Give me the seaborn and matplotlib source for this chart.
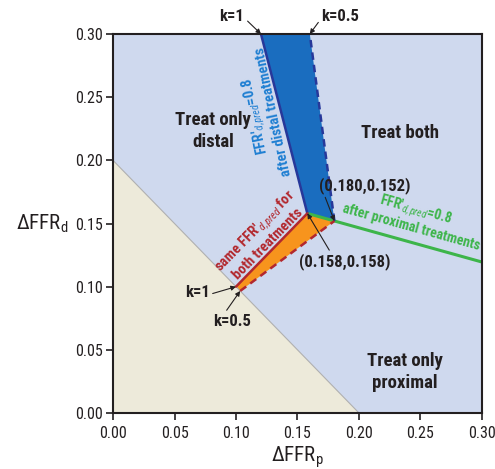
import matplotlib
matplotlib.use("Agg")
import matplotlib.pyplot as plt
import seaborn as sns
import pandas as pd

# regioes (vertices em coordenadas de dados)
triangulo_x = [0.0, 0.20, 0.0]
triangulo_y = [0.0, 0.0, 0.20]
azul_x = [0.158, 0.1203, 0.160, 0.180]
azul_y = [0.158, 0.300, 0.300, 0.152]
laranja_x = [0.158, 0.180, 0.1034, 0.100]
laranja_y = [0.158, 0.152, 0.0966, 0.100]

# linhas de fronteira
k1_dist_x = [0.158, 0.1203]
k1_dist_y = [0.158, 0.300]
k05_dist_x = [0.180, 0.160]
k05_dist_y = [0.152, 0.300]
k1_igual_x = [0.100, 0.158]
k1_igual_y = [0.100, 0.158]
k05_igual_x = [0.1034, 0.180]
k05_igual_y = [0.0966, 0.152]
verde_x = [0.158, 0.180, 0.300]
verde_y = [0.158, 0.152, 0.1195]

ticks = [0.00, 0.05, 0.10, 0.15, 0.20, 0.25, 0.30]

cor_fundo = '#cfd9ee'
cor_bege = '#edeada'
cor_azul = '#1a6dbf'
cor_marinho = '#27389a'
cor_laranja = '#f7941d'
cor_vermelho = '#b2282e'
cor_verde = '#3db54a'
cor_texto_azul = '#1f7fd2'
cor_texto = '#231f20'

fonte = ['Roboto Condensed', 'Barlow Condensed', 'DejaVu Sans']

sns.set_theme(style='ticks')
plt.rcParams['font.family'] = fonte
plt.rcParams['mathtext.fontset'] = 'custom'
plt.rcParams['mathtext.rm'] = 'Roboto Condensed'
plt.rcParams['mathtext.it'] = 'Roboto Condensed:italic'
plt.rcParams['mathtext.bf'] = 'Roboto Condensed:bold'

fig = plt.figure(figsize=(4.95, 4.69), dpi=100)
ax = fig.add_axes([0.2283, 0.1194, 0.7454, 0.8081])
ax.set_facecolor(cor_fundo)

ax.fill(triangulo_x, triangulo_y, color=cor_bege, lw=0)
ax.plot([0.0, 0.20], [0.20, 0.0], color='#b0b0b0', lw=0.8)
ax.fill(azul_x, azul_y, color=cor_azul, lw=0)
ax.fill(laranja_x, laranja_y, color=cor_laranja, lw=0)


def linha(xs, ys, cor, estilo='-', lw=1.8):
    df = pd.DataFrame({'x': xs, 'y': ys})
    sns.lineplot(data=df, x='x', y='y', sort=False, color=cor, lw=lw,
                 linestyle=estilo, ax=ax)


linha(verde_x, verde_y, cor_verde, lw=2.2)
linha(k1_dist_x, k1_dist_y, cor_marinho)
linha(k05_dist_x, k05_dist_y, cor_marinho, estilo=(0, (3, 2)))
linha(k1_igual_x, k1_igual_y, cor_vermelho)
linha(k05_igual_x, k05_igual_y, cor_vermelho, estilo=(0, (3, 2)))

ax.set_xlim(0, 0.30)
ax.set_ylim(0, 0.30)
ax.set_xticks(ticks)
ax.set_yticks(ticks)
ax.set_xticklabels([f'{t:.2f}' for t in ticks])
ax.set_yticklabels([f'{t:.2f}' for t in ticks])
ax.tick_params(labelsize=11.5, length=5, width=1.2, colors=cor_texto)
ax.tick_params(axis='x', pad=4)
ax.tick_params(axis='y', pad=2)
for s in ax.spines.values():
    s.set_linewidth(1.5)
    s.set_color(cor_texto)

ax.set_xlabel(r'$\Delta$FFR$_{\rm p}$', fontsize=15, color=cor_texto, labelpad=3)
ax.set_ylabel(r'$\Delta$FFR$_{\rm d}$', fontsize=15, color=cor_texto, rotation=0,
              va='center', ha='center')
ax.yaxis.set_label_coords(-0.193, 0.5)

# textos das regioes
kw = dict(ha='center', va='center', fontsize=13.5, fontweight='bold', color=cor_texto,
          linespacing=1.3)
ax.text(0.0813, 0.2233, 'Treat only\ndistal', **kw)
ax.text(0.2333, 0.2217, 'Treat both', **kw)
ax.text(0.2374, 0.0325, 'Treat only\nproximal', **kw)

ax.text(0.1225, 0.237, "FFR'$_{\\mathit{d,pred}}$=0.8\nafter distal treatments",
        rotation=102, rotation_mode='anchor', ha='center', va='center',
        fontsize=10.5, fontweight='bold', color=cor_texto_azul, linespacing=1.0)
ax.text(0.1205, 0.1395, "same FFR'$_{\\mathit{d,pred}}$ for\nboth treatments",
        rotation=45.5, rotation_mode='anchor', ha='center', va='center',
        fontsize=10.5, fontweight='bold', color=cor_vermelho, linespacing=1.0)
ax.text(0.2445, 0.1545, "FFR'$_{\\mathit{d,pred}}$=0.8\nafter proximal treatments",
        rotation=-15.5, rotation_mode='anchor', ha='center', va='center',
        fontsize=10, fontweight='bold', color=cor_verde, linespacing=1.0)

# anotacoes com setas
seta = dict(arrowstyle='-|>', color=cor_texto, lw=0.8, mutation_scale=7,
            shrinkA=0, shrinkB=0)
akw = dict(ha='center', va='center', fontsize=12, fontweight='bold', color=cor_texto,
           annotation_clip=False)
ax.annotate('(0.180,0.152)', xy=(0.180, 0.152), xytext=(0.205, 0.180),
            arrowprops=dict(seta, relpos=(0.05, 0.0)), **akw)
ax.annotate('(0.158,0.158)', xy=(0.158, 0.158), xytext=(0.1886, 0.1196),
            arrowprops=dict(seta, relpos=(0.35, 1.0)), **akw)
ax.annotate('k=1', xy=(0.1203, 0.300), xytext=(0.0967, 0.3139),
            arrowprops=dict(seta, relpos=(1.0, 0.4)), **akw)
ax.annotate('k=0.5', xy=(0.160, 0.300), xytext=(0.185, 0.3139),
            arrowprops=dict(seta, relpos=(0.0, 0.4)), **akw)
ax.annotate('k=1', xy=(0.100, 0.100), xytext=(0.0683, 0.095),
            arrowprops=dict(seta, relpos=(1.0, 0.4)), **akw)
ax.annotate('k=0.5', xy=(0.1034, 0.0966), xytext=(0.0967, 0.0728),
            arrowprops=dict(seta, relpos=(0.3, 1.0)), **akw)

fig.savefig('out.png', dpi=100)
